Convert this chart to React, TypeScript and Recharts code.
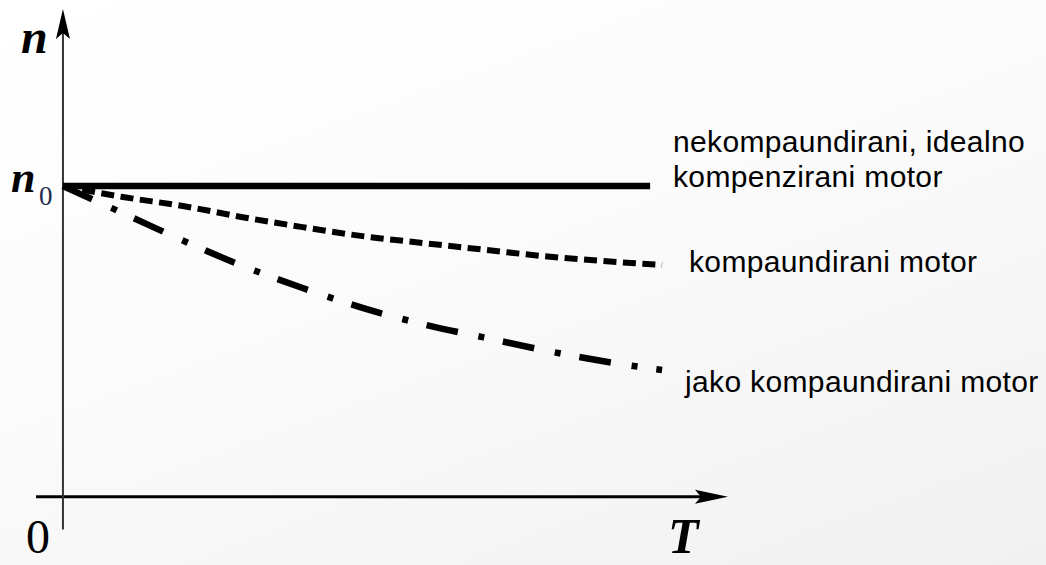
import React from "react";
import { LineChart, Line, XAxis, YAxis, ReferenceLine, ReferenceDot } from "recharts";

// torque axis (relative, 1 = end of curves)
const torque = [0, 0.1, 0.2, 0.3, 0.4, 0.5, 0.6, 0.7, 0.8, 0.9, 1.0];
// speed n / n0
const compound = [1, 0.965, 0.936, 0.9, 0.868, 0.839, 0.817, 0.796, 0.775, 0.759, 0.746];
const heavyCompound = [1, 0.913, 0.825, 0.743, 0.672, 0.608, 0.556, 0.514, 0.473, 0.437, 0.408];
const idealT = [0, 0.98];
const idealN = [1, 1];

const compoundData = torque.map((t, i) => ({ t, n: compound[i] }));
const heavyData = torque.map((t, i) => ({ t, n: heavyCompound[i] }));
const idealData = idealT.map((t, i) => ({ t, n: idealN[i] }));

const W = 1046;
const H = 565;

const sans = "'Liberation Sans', Arial, sans-serif";
const serif = "'Liberation Serif', 'Times New Roman', serif";

const ArrowRight = (props: any) => {
  const { cx, cy } = props;
  return (
    <polygon
      points={`${cx},${cy} ${cx - 33},${cy - 7} ${cx - 27},${cy} ${cx - 33},${cy + 7}`}
      fill="#000"
    />
  );
};

const ArrowUp = (props: any) => {
  const { cx, cy } = props;
  return (
    <polygon
      points={`${cx},${cy} ${cx - 7},${cy + 30} ${cx},${cy + 24} ${cx + 7},${cy + 30}`}
      fill="#000"
    />
  );
};

const labelProps = { fontFamily: sans, fontSize: 30, letterSpacing: 0.35, fill: "#000" };

export default function App() {
  return (
    <div
      style={{
        position: "absolute",
        left: 0,
        top: 0,
        width: W,
        height: H,
        background: "linear-gradient(160deg, #ffffff 0%, #fbfbfb 45%, #f1f1f1 100%)",
      }}
    >
      <LineChart width={W} height={H} margin={{ top: 9, right: 318, bottom: 34, left: 33 }}>
        <XAxis type="number" dataKey="t" domain={[-0.05, 1.11]} allowDataOverflow hide />
        <YAxis type="number" dataKey="n" domain={[-0.11, 1.57]} allowDataOverflow hide />

        <ReferenceLine
          segment={[{ x: -0.045, y: 0 }, { x: 1.08, y: 0 }]}
          stroke="#000"
          strokeWidth={3}
          ifOverflow="visible"
        />
        <ReferenceLine
          segment={[{ x: 0, y: -0.105 }, { x: 0, y: 1.5 }]}
          stroke="#333"
          strokeWidth={2}
          ifOverflow="visible"
        />
        <ReferenceDot x={1.11} y={0} r={1} shape={ArrowRight} ifOverflow="visible" />
        <ReferenceDot x={0} y={1.57} r={1} shape={ArrowUp} ifOverflow="visible" />

        <Line
          data={idealData}
          dataKey="n"
          type="linear"
          stroke="#000"
          strokeWidth={6.5}
          dot={false}
          isAnimationActive={false}
        />
        <Line
          data={compoundData}
          dataKey="n"
          type="monotone"
          stroke="#000"
          strokeWidth={6}
          strokeDasharray="13 6.5"
          dot={false}
          isAnimationActive={false}
        />
        <Line
          data={heavyData}
          dataKey="n"
          type="monotone"
          stroke="#000"
          strokeWidth={6.5}
          strokeDasharray="32 21 6 19"
          dot={false}
          isAnimationActive={false}
        />

        <text x={21} y={53} fontFamily={serif} fontSize={48} fontWeight="bold" fontStyle="italic">
          n
        </text>
        <text x={11} y={192} fontFamily={serif} fontSize={44} fontWeight="bold" fontStyle="italic">
          n
        </text>
        <text x={39} y={205} fontFamily={serif} fontSize={27} fill="#1f2d4d">
          0
        </text>
        <text x={26} y={553} fontFamily={serif} fontSize={48}>
          0
        </text>
        <text x={668} y={553} fontFamily={serif} fontSize={50} fontWeight="bold" fontStyle="italic">
          T
        </text>

        <text x={673} y={152} {...labelProps}>
          nekompaundirani, idealno
        </text>
        <text x={673} y={187} {...labelProps}>
          kompenzirani motor
        </text>
        <text x={689} y={272} {...labelProps}>
          kompaundirani motor
        </text>
        <text x={685} y={392} {...labelProps}>
          jako kompaundirani motor
        </text>
      </LineChart>
    </div>
  );
}
